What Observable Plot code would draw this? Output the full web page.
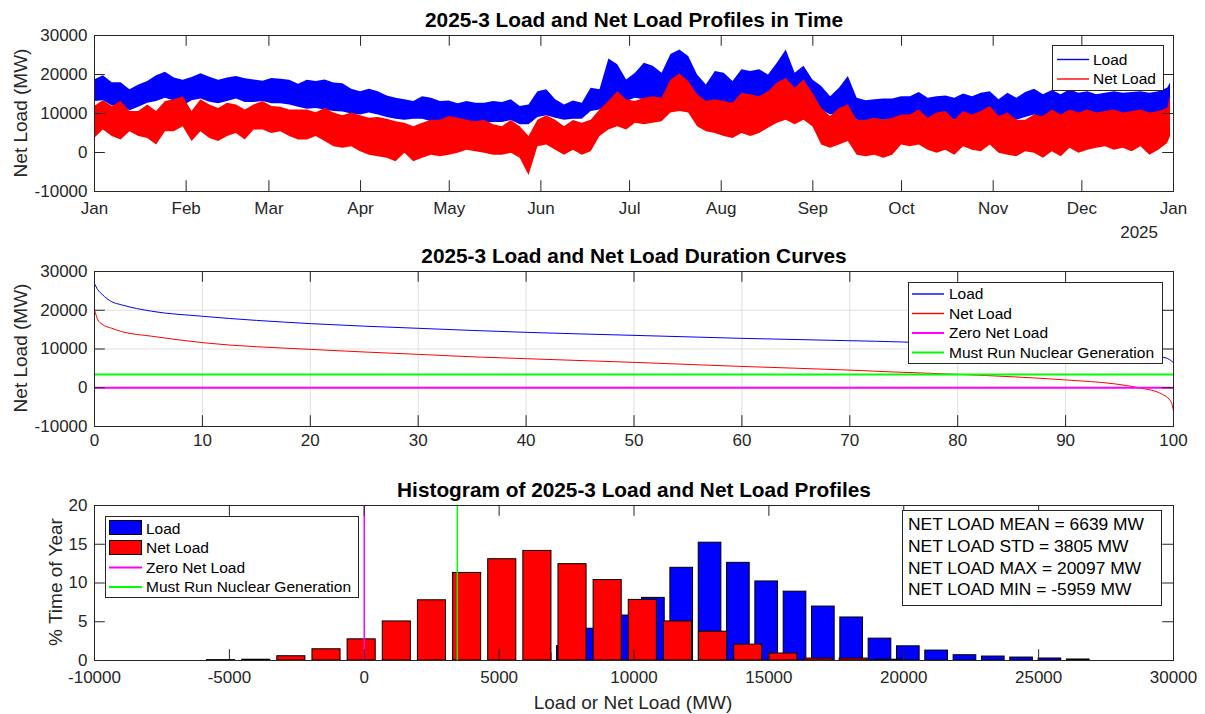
<!DOCTYPE html>
<html><head><meta charset="utf-8">
<script src="https://cdn.jsdelivr.net/npm/d3@7"></script>
<script src="https://cdn.jsdelivr.net/npm/@observablehq/plot@0.6"></script>
<style>
body{margin:0;background:#fff;font-family:"Liberation Sans",Arial,Helvetica,sans-serif;}
#wrap{position:relative;width:1205px;height:714px;overflow:hidden;background:#fff;}
#wrap svg{position:absolute;left:0;display:block;}
.lbl{position:absolute;white-space:nowrap;line-height:1;color:#000;}
.box{position:absolute;border:1px solid #262626;background:#fff;box-sizing:border-box;}
.sw{position:absolute;}
</style></head>
<body><div id="wrap"></div>
<script>
// ---------- DATA ----------
const monthLabels = ["Jan","Feb","Mar","Apr","May","Jun","Jul","Aug","Sep","Oct","Nov","Dec","Jan"];
const yearLabel = "2025";
// sample day-of-year positions (every 3 days + last day)
const sampleDays = d3.range(0, 364, 3).concat([364]);
const loadHi = [18600,19700,17900,17900,16100,17300,18200,19700,20600,19100,18500,19200,20200,19300,18500,19100,19500,18900,18600,18300,19000,18800,18500,17500,18500,18200,18600,17800,17600,16200,15600,
16200,15600,14500,13900,13500,13100,14300,13900,13100,13200,12500,13100,12600,12600,13100,12800,13500,11800,12200,15600,16100,13500,12200,13200,12600,16500,16100,24000,22500,18600,20300,
22900,22100,20300,25100,26300,24600,19900,17300,20800,20300,18200,21200,20800,21200,19900,22900,26300,20300,22100,18600,16900,14300,16500,19500,13900,13300,13500,13700,13700,14300,
14300,15400,13900,14300,14500,13900,15000,14300,15200,15600,13500,15200,13900,15400,16200,14800,15900,14800,16100,15200,15600,14800,15200,15600,15200,15400,15600,15200,15600,16500,17800];
const loadLo = [13100,13300,11900,12200,10700,11600,12600,13100,13900,13200,11900,13300,13700,12900,12500,13100,13700,12800,12800,13100,12500,12500,12200,11600,11100,11300,10900,10500,10400,9900,9600,
10100,9600,9000,8500,8300,8500,8500,7900,7700,7900,7300,7900,7700,7500,7700,7700,8200,7100,7100,9000,9400,8800,8300,8500,8500,10500,10900,12200,13100,13100,13900,
13500,13900,13500,14300,14800,14300,12600,10900,11800,11800,10900,11800,11800,12200,11800,12600,13900,12200,12200,11300,10900,9600,10100,10500,8300,7900,8200,8300,8300,8800,
9000,9400,8500,8800,9000,8300,9200,8800,9000,8800,7900,8500,8300,9000,9600,8800,9400,8800,9600,9000,8800,9000,9200,9600,9000,9000,9400,8500,9200,10100,10500];
const netHi = [11800,13300,11800,13100,10500,10500,12200,10500,13100,13500,14300,10500,13500,12200,11300,12600,12200,10900,12200,13100,11800,11600,10900,10900,10900,10200,11300,10100,9400,10100,9400,
8800,9000,8500,7900,7500,6600,7500,8300,8300,9200,8800,8300,7900,8300,7100,6600,8200,6600,4100,8300,9400,8300,6600,8200,7500,8300,10900,13100,15600,13500,13100,
13900,14300,13900,18600,20100,18200,14800,13100,13500,13100,12600,15200,14800,14300,15600,17800,19000,16500,18600,15200,11300,9200,11300,12200,8300,8300,8800,8300,8800,9600,
9600,10900,8800,10100,10500,8300,10500,9600,10500,11800,9200,10100,8300,8300,9600,9200,10900,9600,10900,10100,10900,10100,10500,10900,10100,10500,10900,10100,10500,11300,14300];
const netLo = [3600,5800,4100,3200,5300,4100,3600,1900,5300,5300,6600,2800,5300,3600,2800,4100,4900,3200,5800,5800,4900,5300,4100,3200,3200,4100,2800,1500,1100,1500,200,
-700,-1100,-1500,-2400,-200,-2400,-1500,-700,-1100,-700,-200,600,200,-200,-700,-700,-200,-1500,-5900,1500,1900,600,-700,600,-700,200,4100,5800,6600,5800,7500,
7100,7500,7900,10100,10500,10100,6600,5300,4900,4100,3600,4900,4100,4900,6200,7500,8300,7100,8300,6600,1900,1100,1900,2800,-700,-1100,-700,-1500,-700,1900,
1500,1900,600,-200,600,-700,1500,600,200,1900,-200,-700,-1100,200,-200,-1500,200,-1100,1100,-200,600,1100,1500,600,1100,200,1500,-700,600,2300,4100];

// duration curves (% of year exceeded, MW)
const loadDurPct = [0,0.3,0.7,1.6,2.5,5.3,10,20,30,40,50,60,70,75,80,85,90,93,95,97,98.5,99.3,100];
const loadDurMW  = [26900,25300,24100,22200,21400,19750,18450,16550,15340,14300,13520,12750,12140,11800,11150,10500,9750,9150,8650,8300,8000,7700,6500];
const netDurPct = [0,0.3,0.7,1.6,2.5,5.3,10,20,30,35.8,40,50,60,70,73.8,80.1,90,94.6,96.8,98.9,99.8,100];
const netDurMW  = [20097,17600,16400,15350,14500,13300,11640,9900,8620,7900,7500,6550,5500,4550,4100,3450,2020,980,0,-1600,-3780,-5959];
const zeroNetLoad = 0;
const mustRunNuclear = 3450;

// histograms (bin centres in MW, % of year)
const loadCenters = [6519,7569,8619,9669,10719,11769,12819,13869,14919,15969,17019,18069,19119,20169,21219,22269,23319,24369,25419,26469];
const loadPct = [0.9,1.87,4.1,5.8,8.08,11.96,15.2,12.6,10.2,8.88,6.96,5.55,2.82,1.83,1.28,0.68,0.51,0.38,0.26,0.13];
const loadBinWidth = 1050;
const netCenters = [-5308,-4005,-2702,-1399,-96,1207,2510,3813,5116,6419,7721,9024,10327,11630,12933,14236,15539,16842,18145,19448];
const netPct = [0.05,0.1,0.55,1.45,2.73,5.04,7.77,11.3,13.07,14.14,12.43,10.38,7.82,5.04,3.72,2.05,0.9,0.25,0.25,0.1];
const netBinWidth = 1302.8;

const statLines = ["NET LOAD MEAN = 6639 MW","NET LOAD STD = 3805 MW","NET LOAD MAX = 20097 MW","NET LOAD MIN = -5959 MW"];
const titles = ["2025-3 Load and Net Load Profiles in Time","2025-3 Load and Net Load Duration Curves","Histogram of 2025-3 Load and Net Load Profiles"];
const mwTicks = [-10000,0,10000,20000,30000];
const pctTicks = [0,10,20,30,40,50,60,70,80,90,100];
const histXTicks = [-10000,-5000,0,5000,10000,15000,20000,25000,30000];
const histYTicks = [0,5,10,15,20];

// ---------- BUILD ----------
const W=1205, ML=94, MR=32, TL=10.8, AX="#262626";
const FW = W-ML-MR;
const FONT='"Liberation Sans", Arial, Helvetica, sans-serif';
const style = {fontFamily: FONT, fontSize: "17px", color: AX, background: "transparent"};
const BLUE="#0000ff", RED="#ff0000", MAG="#ff00ff", GRN="#00ff00";
const t0 = Date.UTC(2025,0,1);
const profile = sampleDays.map((d,i)=>({date:new Date(t0+d*864e5), loadHi:loadHi[i], loadLo:loadLo[i], netHi:netHi[i], netLo:netLo[i]}));
const monthTicks = monthLabels.map((m,i)=>new Date(Date.UTC(2025,i,1)));
const fmt = d=>String(d);

function boxTicks(xT, yT, fh){
  return [
    Plot.ruleX(xT,{x:d=>d, insetTop:fh-TL, stroke:AX}),
    Plot.ruleX(xT,{x:d=>d, insetBottom:fh-TL, stroke:AX}),
    Plot.ruleY(yT,{y:d=>d, insetRight:FW-TL, stroke:AX}),
    Plot.ruleY(yT,{y:d=>d, insetLeft:FW-TL, stroke:AX}),
    Plot.frame({stroke:AX})
  ];
}

const wrap = document.getElementById("wrap");

// Panel 1
const p1 = Plot.plot({
  width:W, height:245, marginLeft:ML, marginRight:MR, marginTop:35, marginBottom:54, style,
  x:{type:"utc", domain:[new Date(t0), new Date(Date.UTC(2026,0,1))], label:null},
  y:{domain:[-10000,30000], label:null},
  marks:[
    Plot.area(profile,{x1:"date", y1:"loadLo", y2:"loadHi", fill:BLUE}),
    Plot.area(profile,{x1:"date", y1:"netLo", y2:"netHi", fill:RED}),
    ...boxTicks(monthTicks, mwTicks, 156),
    Plot.axisX(monthTicks,{tickSize:0, tickPadding:10, tickFormat:(d)=>monthLabels[d.getUTCMonth()+ (d.getUTCFullYear()>2025?12:0)], label:null}),
    Plot.axisY(mwTicks,{tickSize:0, tickPadding:7, tickFormat:fmt, label:null})
  ]
});
p1.style.top="0px"; wrap.appendChild(p1);

// Panel 2
const loadDur = loadDurPct.map((p,i)=>({p, v:loadDurMW[i]}));
const netDur = netDurPct.map((p,i)=>({p, v:netDurMW[i]}));
const p2 = Plot.plot({
  width:W, height:230, marginLeft:ML, marginRight:MR, marginTop:26, marginBottom:49, style,
  x:{domain:[0,100], label:null}, y:{domain:[-10000,30000], label:null},
  marks:[
    Plot.gridX(pctTicks,{stroke:"#dfdfdf", strokeOpacity:1}),
    Plot.gridY(mwTicks,{stroke:"#dfdfdf", strokeOpacity:1}),
    Plot.line(loadDur,{x:"p", y:"v", stroke:BLUE, strokeWidth:1, curve:"monotone-x"}),
    Plot.line(netDur,{x:"p", y:"v", stroke:RED, strokeWidth:1, curve:"monotone-x"}),
    Plot.ruleY([zeroNetLoad],{stroke:MAG, strokeWidth:2}),
    Plot.ruleY([mustRunNuclear],{stroke:GRN, strokeWidth:2}),
    ...boxTicks(pctTicks, mwTicks, 155),
    Plot.axisX(pctTicks,{tickSize:0, tickPadding:7, tickFormat:fmt, label:null}),
    Plot.axisY(mwTicks,{tickSize:0, tickPadding:7, tickFormat:fmt, label:null})
  ]
});
p2.style.top="245px"; wrap.appendChild(p2);

// Panel 3
const loadBars = loadCenters.map((c,i)=>({x1:c-0.4*loadBinWidth, x2:c+0.4*loadBinWidth, y:loadPct[i]}));
const netBars = netCenters.map((c,i)=>({x1:c-0.4*netBinWidth, x2:c+0.4*netBinWidth, y:netPct[i]}));
const p3 = Plot.plot({
  width:W, height:239, marginLeft:ML, marginRight:MR, marginTop:30, marginBottom:54, style,
  x:{domain:[-10000,30000], label:null}, y:{domain:[0,20], label:null},
  marks:[
    Plot.rectY(loadBars,{x1:"x1", x2:"x2", y:"y", fill:BLUE, stroke:"#000", strokeWidth:1}),
    Plot.rectY(netBars,{x1:"x1", x2:"x2", y:"y", fill:RED, stroke:"#000", strokeWidth:1}),
    Plot.ruleX([zeroNetLoad],{stroke:MAG, strokeWidth:1.5}),
    Plot.ruleX([mustRunNuclear],{stroke:GRN, strokeWidth:1.5}),
    ...boxTicks(histXTicks, histYTicks, 155),
    Plot.axisX(histXTicks,{tickSize:0, tickPadding:10, tickFormat:fmt, label:null}),
    Plot.axisY(histYTicks,{tickSize:0, tickPadding:7, tickFormat:fmt, label:null})
  ]
});
p3.style.top="475px"; wrap.appendChild(p3);

// ---------- TEXT OVERLAYS ----------
function label(text, x, y, opt={}){
  const d=document.createElement("div"); d.className="lbl"; d.textContent=text;
  d.style.left=x+"px"; d.style.top=y+"px";
  d.style.fontSize=(opt.size||17)+"px";
  if(opt.bold) d.style.fontWeight="bold";
  const ax = opt.align==="left"?"0":(opt.align==="right"?"-100%":"-50%");
  d.style.transform=`translate(${ax},-50%)`;
  if(opt.rot){ d.style.transform=`translate(-50%,-50%) rotate(${opt.rot}deg)`; }
  if(opt.color) d.style.color=opt.color;
  wrap.appendChild(d); return d;
}
label(titles[0], 634, 20, {bold:true, size:20.8});
label(titles[1], 634, 256, {bold:true, size:20.8});
label(titles[2], 634, 490, {bold:true, size:20.8});
label("Net Load (MW)", 20, 113, {rot:-90, size:19, color:"#262626"});
label("Net Load (MW)", 20, 348, {rot:-90, size:19, color:"#262626"});
label("% Time of Year", 55, 582, {rot:-90, size:19, color:"#262626"});
label("Load or Net Load (MW)", 633, 702, {size:19, color:"#262626"});
label(yearLabel, 1158, 232, {align:"right", size:17, color:"#262626"});

// legend swatches drawn in a small SVG overlay
const ns="http://www.w3.org/2000/svg";
function box(x,y,w,h){const b=document.createElement("div"); b.className="box"; Object.assign(b.style,{left:x+"px",top:y+"px",width:w+"px",height:h+"px"}); wrap.appendChild(b); return b;}
const ov=document.createElementNS(ns,"svg"); ov.setAttribute("width",W); ov.setAttribute("height",714);
ov.style.position="absolute"; ov.style.left="0"; ov.style.top="0"; ov.style.pointerEvents="none";
function lineSw(x1,x2,y,color,w){const l=document.createElementNS(ns,"line"); l.setAttribute("x1",x1); l.setAttribute("x2",x2); l.setAttribute("y1",y); l.setAttribute("y2",y); l.setAttribute("stroke",color); l.setAttribute("stroke-width",w); ov.appendChild(l);}
function patch(x,y,w,h,color){const r=document.createElementNS(ns,"rect"); r.setAttribute("x",x); r.setAttribute("y",y); r.setAttribute("width",w); r.setAttribute("height",h); r.setAttribute("fill",color); r.setAttribute("stroke","#000"); r.setAttribute("stroke-width",1); ov.appendChild(r);}

// legend 1
box(1052,45,112,46);
label("Load",1093,59.5,{align:"left",size:15.5});
label("Net Load",1093,79,{align:"left",size:15.5});
// legend 2
box(908,282,255,82);
const l2 = [["Load",BLUE,1.4],["Net Load",RED,1.4],["Zero Net Load",MAG,2],["Must Run Nuclear Generation",GRN,2]];
const l2y=[294,313.5,333,352.5];
l2y.forEach((y,i)=>label(l2[i][0],949,y,{align:"left",size:15.5}));
// legend 3
box(105,516,254,82);
label("Load",146,528.5,{align:"left",size:15.5});
label("Net Load",146,548,{align:"left",size:15.5});
label("Zero Net Load",146,567.5,{align:"left",size:15.5});
label("Must Run Nuclear Generation",146,587,{align:"left",size:15.5});
// stats box
box(902,510,260,96);
[524.5,546.5,568.5,590].forEach((y,i)=>label(statLines[i],908,y,{align:"left",size:17.4}));

wrap.appendChild(ov);
lineSw(1057,1089,59.5,BLUE,1.4);
lineSw(1057,1089,79,RED,1.4);
l2y.forEach((y,i)=>lineSw(912,944,y,l2[i][1],l2[i][2]));
patch(109.5,520.5,32,14,BLUE);
patch(109.5,540.5,32,14,RED);
lineSw(109,142,567.5,MAG,2);
lineSw(109,142,587,GRN,2);
</script></body></html>
